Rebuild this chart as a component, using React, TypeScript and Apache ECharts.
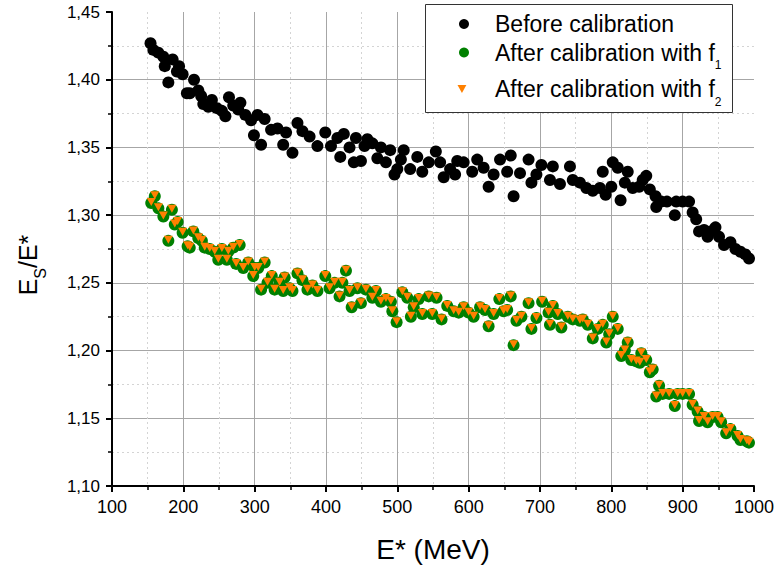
import React, { useEffect, useRef } from "react";
import * as echarts from "echarts";

// ---- data ----
const beforeEnergy = [
  154, 158, 165, 172, 174, 179, 185, 191, 194, 199, 205, 209, 215, 221, 225, 228, 235, 240, 247, 254,
  259, 264, 270, 277, 280, 287, 295, 299, 304, 309, 314, 323, 332, 340, 344, 353, 360, 367, 377, 388,
  399, 407, 416, 420, 425, 433, 439, 442, 449, 454, 458, 465, 472, 477, 484, 490, 496, 500, 505, 509,
  518, 528, 535, 544, 554, 560, 565, 574, 581, 584, 593, 605, 612, 621, 628, 635, 644, 654, 659, 663,
  672, 684, 688, 695, 702, 714, 718, 728, 742, 746, 756, 765, 774, 784, 788, 792, 800, 802, 809, 813,
  819, 823, 830, 839, 844, 849, 854, 862, 863, 870, 878, 889, 891, 900, 909, 914, 919, 923, 930, 935,
  939, 946, 951, 958, 967, 974, 981, 988, 993,
];
const beforeRatio = [
  1.427, 1.422, 1.420, 1.417, 1.410, 1.398, 1.415, 1.406, 1.410, 1.404, 1.390, 1.390, 1.400, 1.392, 1.388, 1.382, 1.380, 1.385, 1.379, 1.377,
  1.373, 1.387, 1.381, 1.378, 1.383, 1.374, 1.370, 1.359, 1.374, 1.352, 1.371, 1.363, 1.364, 1.352, 1.361, 1.346, 1.368, 1.362, 1.358, 1.351,
  1.361, 1.351, 1.357, 1.343, 1.360, 1.350, 1.339, 1.357, 1.340, 1.351, 1.356, 1.353, 1.342, 1.350, 1.339, 1.348, 1.330, 1.334, 1.341, 1.348,
  1.334, 1.343, 1.332, 1.339, 1.347, 1.339, 1.328, 1.334, 1.330, 1.340, 1.339, 1.332, 1.341, 1.335, 1.321, 1.330, 1.341, 1.332, 1.344, 1.314,
  1.331, 1.341, 1.324, 1.330, 1.337, 1.326, 1.336, 1.323, 1.336, 1.326, 1.324, 1.320, 1.318, 1.320, 1.332, 1.315, 1.321, 1.339, 1.335, 1.311,
  1.324, 1.332, 1.320, 1.321, 1.326, 1.329, 1.319, 1.314, 1.306, 1.310, 1.310, 1.300, 1.310, 1.310, 1.310, 1.302, 1.297, 1.288, 1.289, 1.284,
  1.288, 1.291, 1.284, 1.278, 1.280, 1.275, 1.273, 1.271, 1.268,
];

const afterEnergy = [
  155, 160, 165, 172, 179, 184, 188, 192, 199, 206, 209, 214, 221, 226, 230, 237, 244, 249, 254, 261,
  263, 270, 274, 279, 284, 291, 298, 300, 305, 309, 314, 318, 324, 328, 335, 340, 342, 349, 353, 360,
  367, 374, 381, 388, 399, 405, 412, 419, 423, 428, 433, 436, 444, 449, 456, 465, 470, 477, 484, 491,
  493, 499, 507, 514, 519, 523, 530, 535, 544, 549, 555, 562, 570, 579, 586, 593, 600, 607, 616, 623,
  628, 635, 643, 649, 654, 659, 663, 667, 674, 684, 688, 695, 703, 712, 714, 718, 725, 730, 739, 746,
  756, 760, 767, 774, 781, 788, 793, 797, 802, 809, 814, 819, 823, 828, 835, 840, 842, 849, 854, 858,
  863, 867, 872, 881, 889, 893, 900, 909, 914, 921, 923, 930, 935, 942, 949, 954, 961, 967, 977, 981,
  990, 993,
];
const afterF1Ratio = [
  1.309, 1.314, 1.305, 1.299, 1.281, 1.304, 1.293, 1.295, 1.287, 1.277, 1.276, 1.288, 1.283, 1.281, 1.276, 1.275, 1.273, 1.267, 1.275, 1.267,
  1.273, 1.276, 1.264, 1.278, 1.261, 1.265, 1.255, 1.261, 1.261, 1.245, 1.265, 1.250, 1.255, 1.245, 1.250, 1.244, 1.254, 1.246, 1.244, 1.257,
  1.252, 1.245, 1.248, 1.244, 1.255, 1.246, 1.250, 1.240, 1.250, 1.259, 1.244, 1.232, 1.246, 1.235, 1.245, 1.239, 1.244, 1.236, 1.238, 1.236,
  1.229, 1.221, 1.243, 1.239, 1.225, 1.232, 1.238, 1.227, 1.240, 1.227, 1.239, 1.223, 1.233, 1.229, 1.228, 1.232, 1.228, 1.225, 1.232, 1.230,
  1.218, 1.227, 1.238, 1.229, 1.230, 1.240, 1.204, 1.222, 1.225, 1.235, 1.216, 1.224, 1.236, 1.228, 1.219, 1.233, 1.227, 1.217, 1.225, 1.223,
  1.222, 1.223, 1.219, 1.209, 1.216, 1.219, 1.206, 1.212, 1.225, 1.216, 1.196, 1.200, 1.206, 1.193, 1.192, 1.191, 1.198, 1.193, 1.184, 1.186,
  1.166, 1.174, 1.168, 1.168, 1.159, 1.168, 1.168, 1.168, 1.160, 1.155, 1.148, 1.151, 1.147, 1.151, 1.151, 1.147, 1.139, 1.142, 1.137, 1.134,
  1.133, 1.132,
];
const afterF2Ratio = [
  1.309, 1.314, 1.305, 1.299, 1.281, 1.304, 1.293, 1.295, 1.287, 1.277, 1.276, 1.288, 1.283, 1.281, 1.276, 1.275, 1.273, 1.267, 1.275, 1.267,
  1.273, 1.276, 1.264, 1.278, 1.261, 1.265, 1.255, 1.261, 1.261, 1.245, 1.265, 1.250, 1.255, 1.245, 1.250, 1.244, 1.254, 1.246, 1.244, 1.257,
  1.252, 1.245, 1.248, 1.244, 1.255, 1.246, 1.250, 1.240, 1.250, 1.259, 1.244, 1.232, 1.246, 1.235, 1.245, 1.239, 1.244, 1.236, 1.238, 1.236,
  1.229, 1.221, 1.243, 1.239, 1.225, 1.232, 1.238, 1.227, 1.240, 1.227, 1.239, 1.223, 1.233, 1.229, 1.228, 1.232, 1.228, 1.225, 1.232, 1.230,
  1.218, 1.227, 1.238, 1.229, 1.230, 1.240, 1.204, 1.222, 1.225, 1.235, 1.216, 1.224, 1.236, 1.228, 1.219, 1.233, 1.227, 1.217, 1.225, 1.223,
  1.222, 1.223, 1.219, 1.209, 1.216, 1.219, 1.206, 1.212, 1.225, 1.216, 1.196, 1.200, 1.206, 1.193, 1.192, 1.191, 1.198, 1.193, 1.184, 1.186,
  1.166, 1.174, 1.168, 1.168, 1.159, 1.168, 1.168, 1.168, 1.160, 1.155, 1.148, 1.151, 1.147, 1.151, 1.151, 1.147, 1.139, 1.142, 1.137, 1.134,
  1.133, 1.132,
];

const seriesNames = ["Before calibration", "After calibration with f1", "After calibration with f2"];
const legendLabels = ["Before calibration", "After calibration with f{sub|1}", "After calibration with f{sub|2}"];

const xMin = 100;
const xMax = 1000;
const xStep = 100;
const yMin = 1.1;
const yMax = 1.45;
const yStep = 0.05;

const FONT = "'Liberation Sans', Arial, Helvetica, sans-serif";
const TRIANGLE_DOWN = "path://M0,0L10,0L5,9Z";

export default function App() {
  const ref = useRef<HTMLDivElement>(null);

  useEffect(() => {
    if (!ref.current) return;
    const chart = echarts.init(ref.current, null, { renderer: "svg" });
    const zip = (xs: number[], ys: number[]) => xs.map((x, i) => [x, ys[i]]);

    const legendTextBase = {
      fontFamily: FONT,
      fontSize: 23,
      color: "#000",
      lineHeight: 37,
      rich: {
        sub: { fontFamily: FONT, fontSize: 12, lineHeight: 12, verticalAlign: "bottom", color: "#000" },
      },
    };
    const mkLegend = (i: number, left: number, top: number, w: number, h: number, pad: number) => ({
      data: [seriesNames[i]],
      left,
      top,
      orient: "horizontal",
      padding: 0,
      itemGap: 0,
      itemWidth: w,
      itemHeight: h,
      selectedMode: false,
      formatter: (name: string) => legendLabels[seriesNames.indexOf(name)],
      textStyle: { ...legendTextBase, padding: [0, 0, 0, pad] },
    });

    const axisCommon = {
      type: "value",
      axisLine: { show: true, onZero: false, lineStyle: { color: "#000", width: 2 } },
      axisTick: { show: true, inside: false, length: 6, lineStyle: { color: "#000", width: 2 } },
      minorTick: { show: true, splitNumber: 2, length: 4, lineStyle: { color: "#000", width: 1.5 } },
      splitLine: { show: true, showMinLine: false, showMaxLine: false, lineStyle: { color: "#a6a6a6", width: 1 } },
      minorSplitLine: { show: true, lineStyle: { color: "#d4d4d4", width: 1, type: [2, 3] } },
    };

    chart.setOption({
      animation: false,
      backgroundColor: "#fff",
      grid: { left: 110, right: 22, top: 12, bottom: 88, containLabel: false },
      xAxis: {
        ...axisCommon,
        min: xMin,
        max: xMax,
        interval: xStep,
        axisLabel: {
          fontFamily: FONT,
          fontSize: 18,
          color: "#000",
          margin: 12,
          formatter: (v: number) => String(v),
        },
        name: "E* (MeV)",
        nameLocation: "middle",
        nameGap: 49,
        nameTextStyle: { fontFamily: FONT, fontSize: 28, color: "#000" },
      },
      yAxis: {
        ...axisCommon,
        min: yMin,
        max: yMax,
        interval: yStep,
        axisLabel: {
          fontFamily: FONT,
          fontSize: 17,
          color: "#000",
          margin: 12,
          formatter: (v: number) => v.toFixed(2).replace(".", ","),
        },
        name: "E{sub|S}/E*",
        nameLocation: "middle",
        nameGap: 64,
        nameTextStyle: {
          fontFamily: FONT,
          fontSize: 25,
          color: "#000",
          lineHeight: 40,
          padding: [0, 32, 0, 0],
          rich: { sub: { fontFamily: FONT, fontSize: 16, lineHeight: 16, verticalAlign: "bottom", color: "#000" } },
        },
      },
      legend: [
        mkLegend(0, 459, 5.5, 10, 10, 21),
        mkLegend(1, 459, 34, 10, 10, 21),
        mkLegend(2, 457.5, 70.5, 9, 8, 23.5),
      ],
      graphic: [
        {
          type: "rect",
          z: 3,
          silent: true,
          shape: { x: 425.5, y: 4.5, width: 307, height: 108 },
          style: { fill: "#fff", stroke: "#333", lineWidth: 1 },
        },
      ],
      series: [
        {
          type: "scatter",
          name: seriesNames[0],
          data: zip(beforeEnergy, beforeRatio),
          symbol: "circle",
          symbolSize: 12,
          itemStyle: { color: "#000", opacity: 1 },
          z: 2,
        },
        {
          type: "scatter",
          name: seriesNames[1],
          data: zip(afterEnergy, afterF1Ratio),
          symbol: "circle",
          symbolSize: 12,
          itemStyle: { color: "#008000", opacity: 1 },
          z: 2,
        },
        {
          type: "scatter",
          name: seriesNames[2],
          data: zip(afterEnergy, afterF2Ratio),
          symbol: TRIANGLE_DOWN,
          symbolSize: [9, 8],
          symbolOffset: [0, -1],
          itemStyle: { color: "#ff8000", opacity: 1 },
          z: 2,
        },
      ],
    });

    return () => chart.dispose();
  }, []);

  return (
    <div
      ref={ref}
      style={{ position: "fixed", left: 0, top: 0, width: 777, height: 574, background: "#fff" }}
    />
  );
}
